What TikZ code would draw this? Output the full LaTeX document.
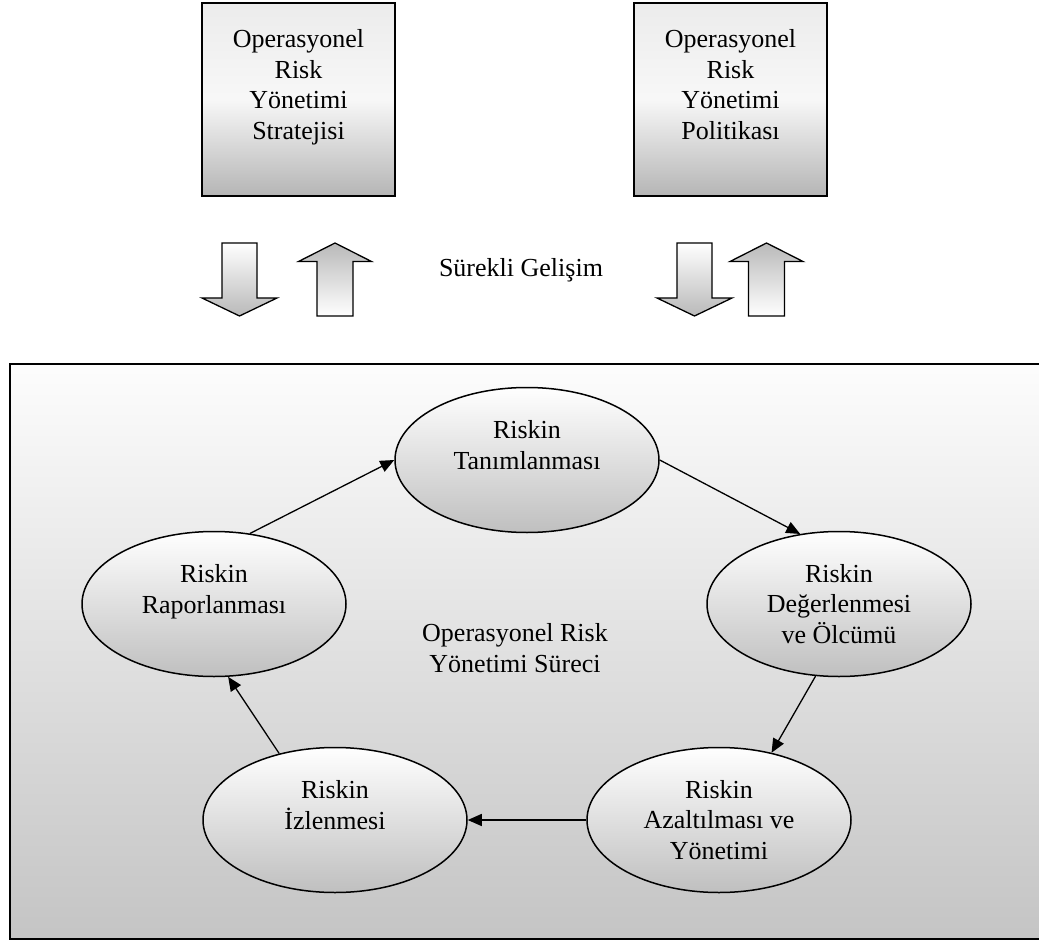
\documentclass[tikz,border=0pt]{standalone}
\usepackage{fontspec}
\setmainfont{Liberation Serif}
\usetikzlibrary{arrows.meta,shapes.geometric}

\begin{document}
\begin{tikzpicture}[x=1pt,y=-1pt,
	every node/.style={font=\fontsize{26}{30.5}\selectfont, align=center},
	policy/.style={draw, line width=1.6pt, minimum width=193pt, minimum height=193pt, inner sep=0pt,
		top color=gray!15, bottom color=gray!58, middle color=gray!6},
	phase/.style={ellipse, draw, line width=1.5pt, minimum width=264pt, minimum height=145pt, inner sep=0pt,
		top color=white, bottom color=gray!50},
	flow/.style={line width=1.3pt, -{Triangle[length=14pt,width=12pt]}}
	]
	\useasboundingbox (0,0) rectangle (1039,941);
	
	% process frame
	\draw[line width=1.8pt, top color=gray!2, bottom color=gray!46] (10,364) rectangle (1045,939);
	
	% top boxes
	\node[policy] (strateji) at (298.5,99.5) {Operasyonel\\Risk\\Yönetimi\\Stratejisi\\~};
	\node[policy] (politika) at (730.5,99.5) {Operasyonel\\Risk\\Yönetimi\\Politikası\\~};
	
	% block arrows
	\foreach \c in {239.5,694.5}
		\draw[line width=1.3pt, top color=white, bottom color=gray!55]
			(\c-17.5,243) -- (\c+17.5,243) -- (\c+17.5,298) -- (\c+37.5,298) -- (\c,316)
			-- (\c-37.5,298) -- (\c-17.5,298) -- cycle;
	\foreach \c in {335,766.5}
		\draw[line width=1.3pt, top color=gray!55, bottom color=white]
			(\c,243) -- (\c+36.5,261.5) -- (\c+18,261.5) -- (\c+18,316) -- (\c-18,316)
			-- (\c-18,261.5) -- (\c-36.5,261.5) -- cycle;
	\node (gelisim) at (521,270) {Sürekli Gelişim};
	
	% risk cycle
	\node[phase] (tanim) at (527,460) {Riskin\\Tanımlanması\\~};
	\node[phase] (deger) at (839,604) {Riskin\\Değerlenmesi\\ve Ölcümü};
	\node[phase] (azalt) at (719,820) {Riskin\\Azaltılması ve\\Yönetimi};
	\node[phase] (izlen) at (335,820) {Riskin\\İzlenmesi\\~};
	\node[phase] (rapor) at (214,604) {Riskin\\Raporlanması\\~};
	\node (surec) at (515,648) {Operasyonel Risk\\Yönetimi Süreci};
	
	\draw[flow] (tanim.east) -- (deger.119);
	\draw[flow] (deger.252) -- (azalt.52);
	\draw[flow] (azalt.west) -- (izlen.east);
	\draw[flow] (izlen.130) -- (rapor.281);
	\draw[flow] (rapor.63) -- (tanim.west);
	
\end{tikzpicture}
\end{document}
